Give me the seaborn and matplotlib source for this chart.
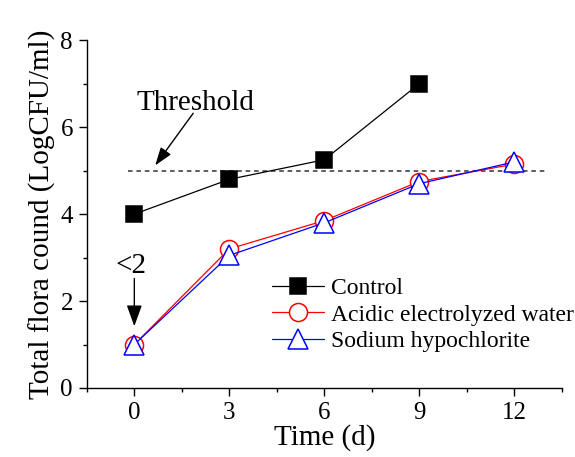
import matplotlib
matplotlib.use("Agg")
import matplotlib.pyplot as plt
from matplotlib.ticker import MultipleLocator
import seaborn as sns
import pandas as pd
import numpy as np

days = [0, 3, 6, 9, 12]
control = [4.0, 4.8, 5.25, 7.0, np.nan]
acidic = [1.0, 3.2, 3.85, 4.75, 5.15]
sodium = [1.0, 3.05, 3.8, 4.7, 5.2]
series_names = ["Control", "Acidic electrolyzed water", "Sodium hypochlorite"]
threshold = 5.0

sns.set_theme(style="ticks")
plt.rcParams['font.family'] = ['Liberation Serif', 'DejaVu Serif']
plt.rcParams['mathtext.fontset'] = 'stix'
for k in ["text.color", "axes.labelcolor", "xtick.color", "ytick.color", "axes.edgecolor"]:
    plt.rcParams[k] = "black"

fig = plt.figure(figsize=(5.75, 4.57), dpi=100)
ax = fig.add_axes([0.151, 0.151, 0.826, 0.761])

df = pd.DataFrame({
    "day": days * 3,
    "value": control + acidic + sodium,
    "group": [series_names[0]] * 5 + [series_names[1]] * 5 + [series_names[2]] * 5,
})

styles = {
    series_names[0]: dict(color="black", marker="s", ms=12, mfc="black", mec="black"),
    series_names[1]: dict(color="red", marker="o", ms=13, mfc="white", mec="red"),
    series_names[2]: dict(color="blue", marker="^", ms=14, mfc="white", mec="blue"),
}
for name in series_names:
    sub = df[df["group"] == name].dropna()
    st = styles[name]
    sns.lineplot(data=sub, x="day", y="value", ax=ax, color=st["color"], lw=0.9,
                 marker=st["marker"], markersize=st["ms"], markerfacecolor=st["mfc"],
                 markeredgecolor=st["mec"], markeredgewidth=1.1, label=name)

ax.plot([-0.2, 13.0], [threshold, threshold], ls=(0, (3, 2.5)), color="#333333", lw=1.1, zorder=1)

ax.text(1.92, 6.55, "Threshold", ha="center", va="center", fontsize=21)
ax.annotate("", xy=(0.66, 5.12), xytext=(1.86, 6.32),
            arrowprops=dict(arrowstyle="-|>,head_length=1.1,head_width=0.38", color="black", lw=1.0,
                            shrinkA=0, shrinkB=0, mutation_scale=10))
ax.text(-0.1, 2.8, "<2", ha="center", va="center", fontsize=21)
ax.annotate("", xy=(0, 1.42), xytext=(0, 2.52),
            arrowprops=dict(arrowstyle="-|>,head_length=1.3,head_width=0.47", color="black", lw=1.0,
                            shrinkA=0, shrinkB=0, mutation_scale=10))

ax.set_xlim(-1.5, 13.5)
ax.set_ylim(0, 8)
ax.set_xticks([0, 3, 6, 9, 12])
ax.set_yticks([0, 2, 4, 6, 8])
ax.xaxis.set_minor_locator(MultipleLocator(1.5))
ax.yaxis.set_minor_locator(MultipleLocator(1))
ax.tick_params(which="major", direction="out", length=6, width=1, labelsize=18, pad=4, color="black")
ax.tick_params(which="minor", direction="out", length=3, width=1, color="black")
for s in ["top", "right"]:
    ax.spines[s].set_visible(False)
for s in ["left", "bottom"]:
    ax.spines[s].set_linewidth(1.0)
    ax.spines[s].set_color("black")

ax.set_xlabel("Time (d)", fontsize=21, labelpad=0)
ax.set_ylabel("Total flora cound (LogCFU/ml)", fontsize=21, labelpad=3)

ax.legend(loc="center left", bbox_to_anchor=(0.39, 0.21), frameon=False, fontsize=17,
          handlelength=2.2, handletextpad=0.3, labelspacing=0.2, borderpad=0, borderaxespad=0)

fig.savefig("out.png", dpi=100)
